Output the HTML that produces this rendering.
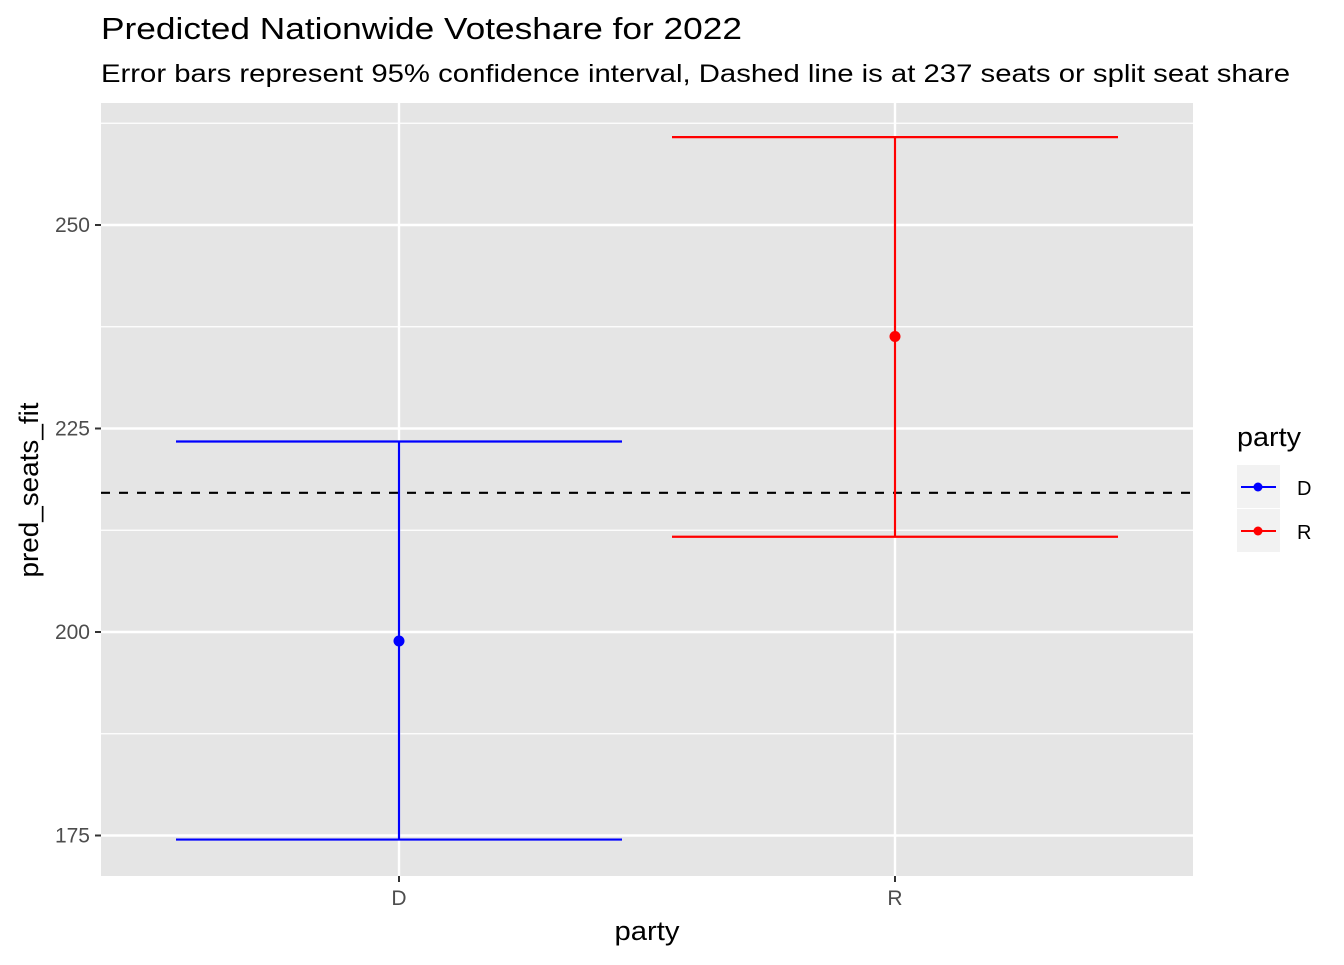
<!DOCTYPE html>
<html><head><meta charset="utf-8"><style>
html,body{margin:0;padding:0;background:#fff;}
svg text{font-family:"Liberation Sans",Arial,sans-serif;}
</style></head><body>
<svg id="chart" width="1344" height="960" xmlns="http://www.w3.org/2000/svg">
<text x="101" y="39" font-size="31" textLength="641" lengthAdjust="spacingAndGlyphs" fill="#000">Predicted Nationwide Voteshare for 2022</text>
<text x="101" y="82" font-size="25" textLength="1189" lengthAdjust="spacingAndGlyphs" fill="#000">Error bars represent 95% confidence interval, Dashed line is at 237 seats or split seat share</text>
<rect x="101" y="103" width="1092" height="773" fill="#e5e5e5"/>
<g id="grid"></g>
<g id="marks"></g>
<g id="axes"></g>
<text x="647" y="940" font-size="27" textLength="65" lengthAdjust="spacingAndGlyphs" text-anchor="middle">party</text>
<text transform="translate(38,490) rotate(-90)" font-size="27" textLength="175" lengthAdjust="spacingAndGlyphs" text-anchor="middle">pred_seats_fit</text>
<g>
<text x="1237" y="446" font-size="27" textLength="64" lengthAdjust="spacingAndGlyphs">party</text>
<g>
<rect x="1237" y="465" width="43" height="43" fill="#f2f2f2"/>
<line x1="1241" y1="487" x2="1276" y2="487" stroke="#0000ff" stroke-width="2"/>
<circle cx="1258" cy="487" r="4.5" fill="#0000ff"/>
<text x="1297" y="495" font-size="20">D</text></g>
<g>
<rect x="1237" y="509" width="43" height="43" fill="#f2f2f2"/>
<line x1="1241" y1="531" x2="1276" y2="531" stroke="#ff0000" stroke-width="2"/>
<circle cx="1258" cy="531" r="4.5" fill="#ff0000"/>
<text x="1297" y="539" font-size="20">R</text></g>
</g>
</svg>
<script>
const categories=["D","R"];
const fitValues=[198.9,236.3];
const lowerValues=[174.5,211.7];
const upperValues=[223.4,260.8];
const colors=["#0000ff","#ff0000"];
const yTicks=[175,200,225,250];
const yMinor=[187.5,212.5,237.5,262.5];
const refLine=[217.1];
const NS="http://www.w3.org/2000/svg";
function y(v){return 632-(v-200)*(203.5/25);}
function x(i){return 399+i*496;}
function mk(tag,attrs,parent){const e=document.createElementNS(NS,tag);for(const k in attrs)e.setAttribute(k,attrs[k]);document.getElementById(parent).appendChild(e);return e;}
yMinor.forEach(v=>{const l=mk('line',{x1:101,x2:1193,y1:y(v),y2:y(v),stroke:'#fff','stroke-width':1.2},'grid');

});
yTicks.forEach(v=>{const l=mk('line',{x1:101,x2:1193,y1:y(v),y2:y(v),stroke:'#fff','stroke-width':2.4},'grid');


const t=mk('line',{x1:95,x2:101,y1:y(v),y2:y(v),stroke:'#333','stroke-width':2},'axes');


const tx=mk('text',{x:90,y:y(v)+7,'font-size':21,fill:'#4d4d4d','text-anchor':'end'},'axes');tx.textContent=v;

});
categories.forEach((c,i)=>{const l=mk('line',{x1:x(i),x2:x(i),y1:103,y2:876,stroke:'#fff','stroke-width':2.4},'grid');


const t=mk('line',{x1:x(i),x2:x(i),y1:876,y2:882,stroke:'#333','stroke-width':2},'axes');


const tx=mk('text',{x:x(i),y:905,'font-size':21,fill:'#4d4d4d','text-anchor':'middle'},'axes');tx.textContent=c;

});
const dl=mk('line',{x1:101,x2:1193,y1:y(refLine[0]),y2:y(refLine[0]),stroke:'#000','stroke-width':2.2,'stroke-dasharray':'9,9'},'marks');


categories.forEach((c,i)=>{const g=mk('g',{},'marks');


const hw=223,col=colors[i];
[[x(i)-hw,y(upperValues[i]),x(i)+hw,y(upperValues[i])],[x(i)-hw,y(lowerValues[i]),x(i)+hw,y(lowerValues[i])],[x(i),y(upperValues[i]),x(i),y(lowerValues[i])]].forEach(a=>{
const l=document.createElementNS(NS,'line');l.setAttribute('x1',a[0]);l.setAttribute('y1',a[1]);l.setAttribute('x2',a[2]);l.setAttribute('y2',a[3]);l.setAttribute('stroke',col);l.setAttribute('stroke-width',2.2);g.appendChild(l);});
const p=document.createElementNS(NS,'circle');p.setAttribute('cx',x(i));p.setAttribute('cy',y(fitValues[i]));p.setAttribute('r',5.5);p.setAttribute('fill',col);


g.appendChild(p);});
</script>
</body></html>
